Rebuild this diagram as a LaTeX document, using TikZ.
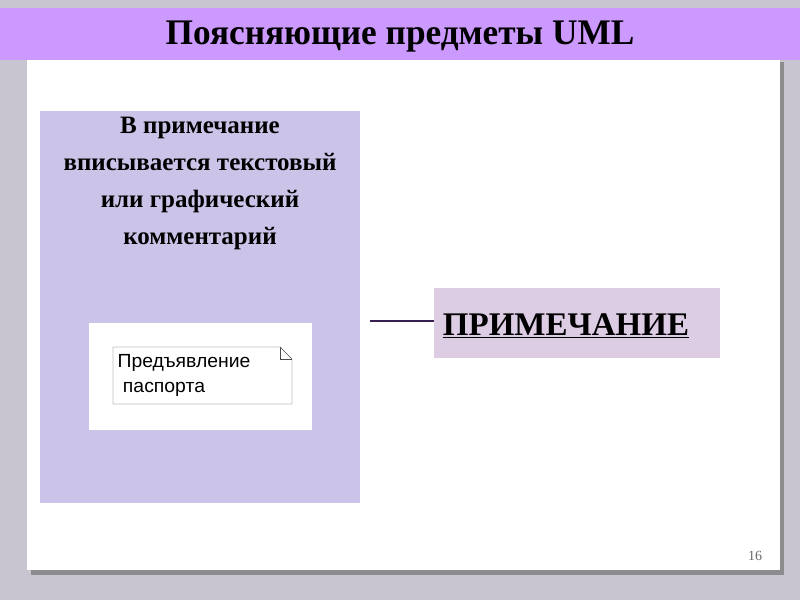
\documentclass[tikz,border=0pt]{standalone}
\usepackage{fontspec}
\setmainfont{Liberation Serif}
\newfontfamily\notefont{Liberation Sans}
\begin{document}
\begin{tikzpicture}[x=1pt,y=-1pt,
  panel/.style={draw=none,inner sep=0pt}]
\definecolor{bg}{HTML}{C8C4D0}
\definecolor{band}{HTML}{CC99FF}
\definecolor{lav}{HTML}{CCC4E8}
\definecolor{pink}{HTML}{DCCCE4}
\definecolor{linec}{HTML}{3A2050}
\fill[bg] (0,0) rectangle (800,600);
\useasboundingbox (0,0) rectangle (800,600);
\fill[black!45] (31,62) rectangle (784,575);
\fill[white] (27,58) rectangle (780,570);
\fill[band] (0,8) rectangle (800,60);
\node[font=\bfseries\fontsize{36}{40}\selectfont,xscale=0.98] (title) at (400,37) {Поясняющие предметы UML};
\node[panel,fill=lav,minimum width=320,minimum height=392] (left) at (200,307) {};
\node[font=\bfseries\fontsize{25}{37}\selectfont,align=center,anchor=north] (ltext) at (200,114)
 {В примечание\\вписывается текстовый\\или графический\\комментарий};
\node[panel,fill=white,minimum width=223,minimum height=107] (inner) at (200.5,376.5) {};
\draw[black!70,fill=white] (113,347) -- (280,347) -- (292,359) -- (292,404) -- (113,404) -- cycle;
\draw[black!70] (280,347) -- (280,359) -- (292,359);
\node[font=\notefont\fontsize{19}{25}\selectfont,align=left,anchor=north west,xscale=1.02] (note) at (114,351)
 {Предъявление\\\ паспорта};
\node[panel,fill=pink,minimum width=286,minimum height=70] (right) at (577,323) {};
\node[font=\bfseries\fontsize{33}{36}\selectfont] (rtext) at (566,326) {\underline{ПРИМЕЧАНИЕ}};
\coordinate (ls) at (370,321);
\draw[linec,line width=2.5pt] (ls) -- (right.west |- ls);
\node[font=\fontsize{14}{16}\selectfont,text=black!60] (num) at (755,556) {16};
\end{tikzpicture}
\end{document}
